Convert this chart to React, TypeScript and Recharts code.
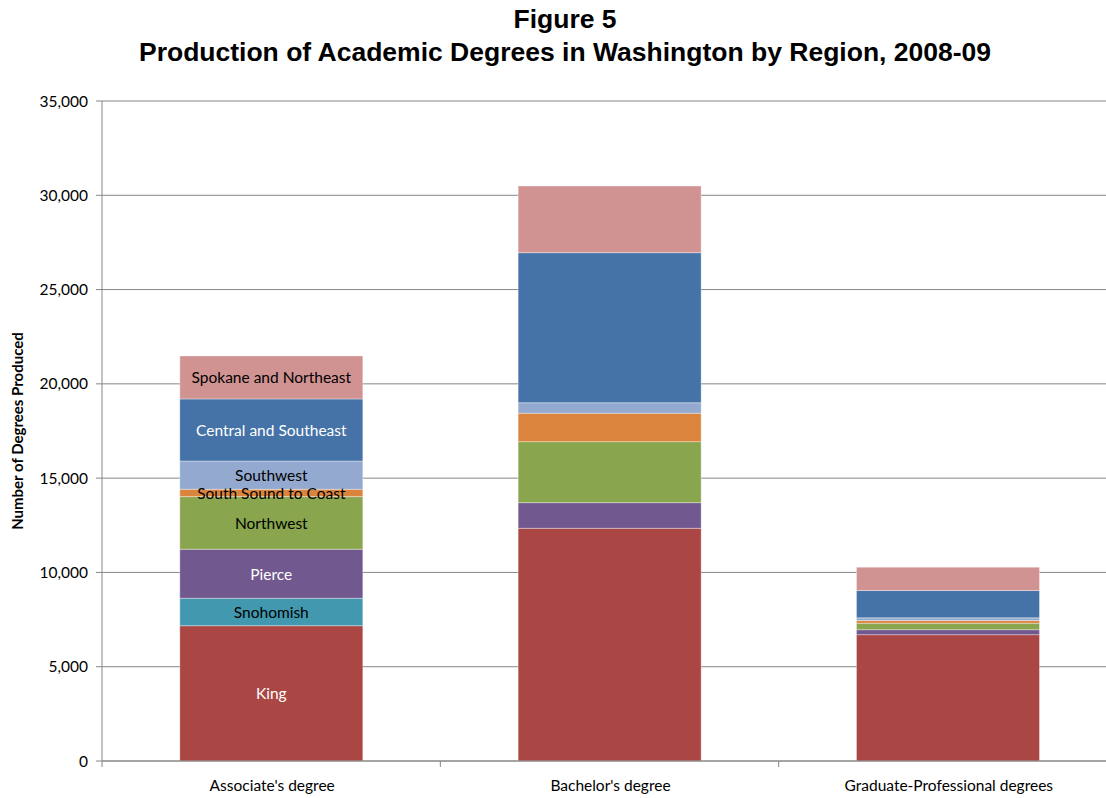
import { BarChart, Bar, XAxis, YAxis, CartesianGrid, LabelList, Label } from "recharts";

const categories = ["Associate's degree", "Bachelor's degree", "Graduate-Professional degrees"];

const king = [7175, 12340, 6700];
const snohomish = [1455, 0, 0];
const pierce = [2600, 1360, 265];
const northwest = [2790, 3235, 340];
const southSound = [390, 1505, 140];
const southwest = [1500, 560, 145];
const centralSoutheast = [3290, 7955, 1450];
const spokaneNortheast = [2280, 3535, 1240];

const yTicks = [0, 5000, 10000, 15000, 20000, 25000, 30000, 35000];

const series = [
  { key: "King", values: king, color: "#AA4643", text: "#ffffff" },
  { key: "Snohomish", values: snohomish, color: "#4198AF", text: "#000000" },
  { key: "Pierce", values: pierce, color: "#71588F", text: "#ffffff" },
  { key: "Northwest", values: northwest, color: "#89A54E", text: "#000000" },
  { key: "South Sound to Coast", values: southSound, color: "#DB843D", text: "#000000" },
  { key: "Southwest", values: southwest, color: "#93A9CF", text: "#000000" },
  { key: "Central and Southeast", values: centralSoutheast, color: "#4572A7", text: "#ffffff" },
  { key: "Spokane and Northeast", values: spokaneNortheast, color: "#D19392", text: "#000000" },
];

const data = categories.map((name, i) => {
  const row: Record<string, string | number> = { name };
  series.forEach((s) => {
    row[s.key] = s.values[i];
  });
  return row;
});

const TICK_SIZE = 6;
const TICK_MARGIN = 14;

function CategoryTick(props: any) {
  const { x, y, payload, index } = props;
  const half = payload?.offset ?? 169;
  const axisY = y - TICK_SIZE - TICK_MARGIN;
  return (
    <g>
      <line x1={x - half} x2={x - half} y1={axisY} y2={axisY + 6} stroke="#868686" />
      {index === categories.length - 1 && (
        <line x1={x + half} x2={x + half} y1={axisY} y2={axisY + 6} stroke="#868686" />
      )}
      <text x={x + 1} y={y - 1} dy="0.71em" textAnchor="middle" fontSize={15.5} fill="#000">
        {payload.value}
      </text>
    </g>
  );
}

function segmentLabel(name: string, color: string) {
  return (props: any) => {
    const { x, y, width, height, index } = props;
    if (index !== 0) return null;
    return (
      <text
        x={x + width / 2}
        y={y + height / 2}
        textAnchor="middle"
        dominantBaseline="central"
        fontSize={15.5}
        fill={color}
      >
        {name}
      </text>
    );
  };
}

export default function App() {
  return (
    <div
      style={{
        position: "absolute",
        left: 0,
        top: 0,
        width: 1106,
        height: 798,
        overflow: "hidden",
        background: "#fff",
        fontFamily: "Lato, 'Open Sans', sans-serif",
      }}
    >
      <div
        style={{
          position: "absolute",
          left: 0,
          top: 3,
          width: 1130,
          textAlign: "center",
          fontFamily: "'Liberation Sans', Arial, sans-serif",
          fontWeight: "bold",
          fontSize: 26.5,
          lineHeight: "33px",
        }}
      >
        <div>Figure 5</div>
        <div>Production of Academic Degrees in Washington by Region, 2008-09</div>
      </div>
      <BarChart
        width={1120}
        height={798}
        data={data}
        margin={{ top: 101, right: 3, bottom: 0, left: 0 }}
        barCategoryGap="23%"
        style={{ fontFamily: "Lato, 'Open Sans', sans-serif" }}
      >
        <CartesianGrid vertical={false} stroke="#868686" />
        <XAxis
          dataKey="name"
          height={37}
          stroke="#868686"
          tickLine={false}
          tickSize={TICK_SIZE}
          tickMargin={TICK_MARGIN}
          tick={<CategoryTick />}
          interval={0}
        />
        <YAxis
          width={102}
          domain={[0, 35000]}
          ticks={yTicks}
          stroke="#868686"
          tickSize={TICK_SIZE}
          tickMargin={8}
          tick={{ fill: "#000", fontSize: 15.5 }}
          tickFormatter={(v: number) => v.toLocaleString("en-US")}
        >
          <Label
            content={(p: any) => {
              const vb = p.viewBox;
              const cx = vb.x + 17;
              const cy = vb.y + vb.height / 2;
              return (
                <text
                  x={cx}
                  y={cy}
                  transform={`rotate(-90 ${cx} ${cy})`}
                  textAnchor="middle"
                  dominantBaseline="central"
                  fontSize={15}
                  fontWeight="bold"
                  fill="#000"
                >
                  Number of Degrees Produced
                </text>
              );
            }}
          />
        </YAxis>
        {series.map((s) => (
          <Bar
            key={s.key}
            dataKey={s.key}
            stackId="a"
            fill={s.color}
            stroke="#ffffff"
            strokeOpacity={0.35}
            isAnimationActive={false}
          >
            <LabelList dataKey={s.key} content={segmentLabel(s.key, s.text)} />
          </Bar>
        ))}
      </BarChart>
    </div>
  );
}
